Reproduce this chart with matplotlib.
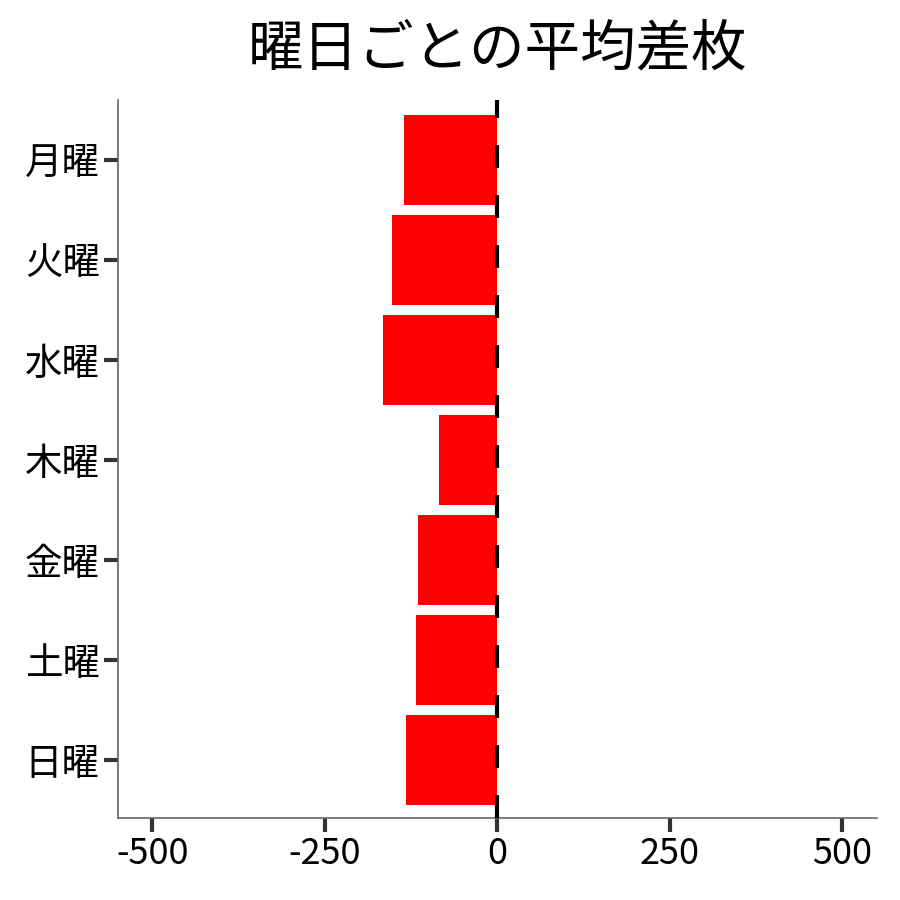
import matplotlib
matplotlib.use("Agg")
import matplotlib.pyplot as plt

plt.rcParams["font.family"] = ["Noto Sans CJK JP", "DejaVu Sans"]

days = ["月曜", "火曜", "水曜", "木曜", "金曜", "土曜", "日曜"]
avg_diff = [-135, -153, -166, -85, -115, -118, -132]
xticks = [-500, -250, 0, 250, 500]

fig = plt.figure(figsize=(9, 9), dpi=100)
ax = fig.add_axes([0.131, 0.091, 0.843, 0.798])

ypos = list(range(len(days)))
ax.barh(ypos, avg_diff, height=0.9, color="#FF0000", zorder=2)
ax.axvline(0, color="black", linestyle=(0, (5.5, 6.5)), linewidth=3, zorder=3)

ax.set_yticks(ypos)
ax.set_yticklabels(days)
ax.set_ylim(len(days) - 1 + 0.58, -0.6)
ax.set_xticks(xticks)
ax.set_xticklabels([str(v) for v in xticks])
ax.set_xlim(-550, 550)

for side in ["top", "right"]:
    ax.spines[side].set_visible(False)
for side in ["left", "bottom"]:
    ax.spines[side].set_color("#666666")
    ax.spines[side].set_linewidth(1.2)
ax.tick_params(axis="both", length=10, width=3, color="#333333",
               labelcolor="black", pad=3)
ax.tick_params(axis="y", labelsize=27)
ax.tick_params(axis="x", labelsize=26)

ax.set_title("曜日ごとの平均差枚", fontsize=40, pad=25)

fig.savefig("out.png", dpi=100)
